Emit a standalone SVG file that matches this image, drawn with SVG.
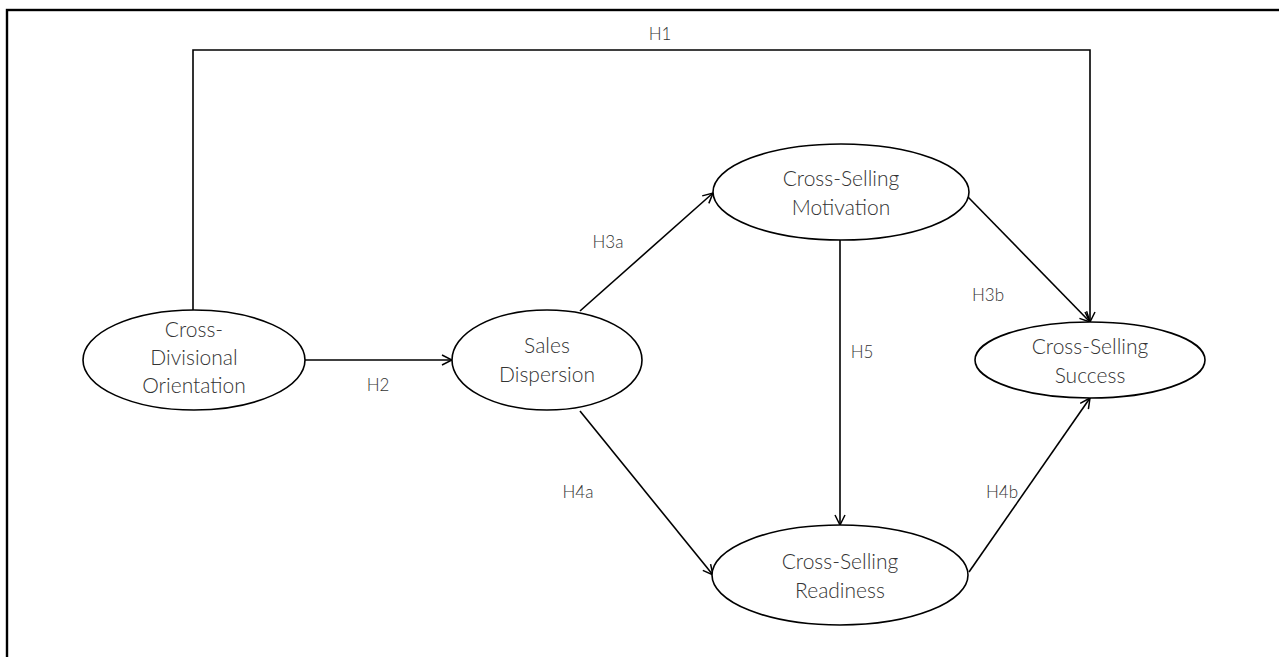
<svg xmlns="http://www.w3.org/2000/svg" width="1279" height="657" viewBox="0 0 1279 657">
  <defs>
    <marker id="arrow" viewBox="0 0 12 12" refX="11" refY="6" markerWidth="12" markerHeight="12" markerUnits="userSpaceOnUse" orient="auto">
      <path d="M1,1 L11,6 L1,11" fill="none" stroke="#000" stroke-width="1.5"/>
    </marker>
  </defs>
  <style>
    .node ellipse { fill: #fff; stroke: #000; stroke-width: 1.6; }
    .node text { font-family: Lato, "Liberation Sans", sans-serif; font-weight: 300; font-size: 21px; fill: #333; text-anchor: middle; }
    .edge { fill: none; stroke: #000; stroke-width: 1.6; marker-end: url(#arrow); }
    .label { font-family: Lato, "Liberation Sans", sans-serif; font-weight: 300; font-size: 17px; fill: #333; text-anchor: middle; }
  </style>
  <rect width="1279" height="657" fill="#fff"/>
  <!-- outer frame -->
  <rect x="7" y="10" width="1290" height="700" fill="none" stroke="#000" stroke-width="2.4"/>

  <g id="connectors">
    <path class="edge" d="M193,310 V50 H1090 V322"/>
    <path class="edge" d="M305,360 H452"/>
    <path class="edge" d="M580,311 L713,193"/>
    <path class="edge" d="M580,411 L713,575"/>
    <path class="edge" d="M840,240 V525"/>
    <path class="edge" d="M968,197 L1090,322"/>
    <path class="edge" d="M969,572 L1090,398"/>
    <text class="label" x="660" y="40">H1</text>
    <text class="label" x="378" y="391">H2</text>
    <text class="label" x="608" y="248">H3a</text>
    <text class="label" x="988" y="301">H3b</text>
    <text class="label" x="862" y="358">H5</text>
    <text class="label" x="578" y="498">H4a</text>
    <text class="label" x="1002" y="498">H4b</text>
  </g>

  <g id="cross-divisional-orientation" class="node">
    <ellipse cx="194" cy="360" rx="111" ry="50"/>
    <text x="194" y="337">Cross-</text>
    <text x="194" y="365">Divisional</text>
    <text x="194" y="393">Orientation</text>
  </g>
  <g id="sales-dispersion" class="node">
    <ellipse cx="547" cy="360" rx="95" ry="50"/>
    <text x="547" y="353">Sales</text>
    <text x="547" y="382">Dispersion</text>
  </g>
  <g id="cross-selling-motivation" class="node">
    <ellipse cx="841" cy="192" rx="128" ry="48"/>
    <text x="841" y="186">Cross-Selling</text>
    <text x="841" y="215">Motivation</text>
  </g>
  <g id="cross-selling-readiness" class="node">
    <ellipse cx="840" cy="575" rx="128" ry="50"/>
    <text x="840" y="569">Cross-Selling</text>
    <text x="840" y="598">Readiness</text>
  </g>
  <g id="cross-selling-success" class="node">
    <ellipse cx="1090" cy="360" rx="115" ry="38"/>
    <text x="1090" y="354">Cross-Selling</text>
    <text x="1090" y="383">Success</text>
  </g>
</svg>
